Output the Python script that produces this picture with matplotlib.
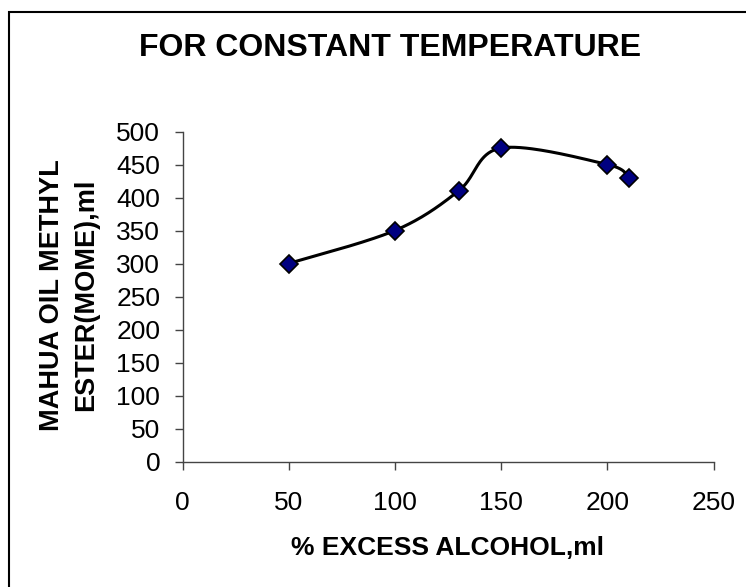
import numpy as np
import matplotlib
matplotlib.use("Agg")
import matplotlib.pyplot as plt
from matplotlib.patches import Rectangle

# data
excess_alcohol = [50, 100, 130, 150, 200, 210]
mome_ml = [300, 350, 410, 475, 450, 430]
x_ticks = [0, 50, 100, 150, 200, 250]
y_ticks = [0, 50, 100, 150, 200, 250, 300, 350, 400, 450, 500]
title = "FOR CONSTANT TEMPERATURE"
x_label = "% EXCESS ALCOHOL,ml"
y_label = "MAHUA OIL METHYL\nESTER(MOME),ml"

plt.rcParams['font.family'] = ['Liberation Sans', 'DejaVu Sans']

W, H = 746, 587
fig = plt.figure(figsize=(W / 100, H / 100), dpi=100)
fig.patch.set_facecolor('white')

# outer chart border (extends beyond right/bottom edge)
fig.patches.append(Rectangle((8.5 / W, -0.05), 1.2, 1 - 11.5 / H + 0.05,
                             transform=fig.transFigure, fill=False,
                             edgecolor='black', linewidth=1.5))

left, right = 182.5 / W, 713.5 / W
bottom, top = 1 - 461.5 / H, 1 - 131.5 / H
ax = fig.add_axes([left, bottom, right - left, top - bottom])
ax.set_xlim(0, 250)
ax.set_ylim(0, 500)
ax.set_xticks(x_ticks)
ax.set_yticks(y_ticks)
for s in ['top', 'right']:
    ax.spines[s].set_visible(False)
for s in ['left', 'bottom']:
    ax.spines[s].set_color('#444444')
    ax.spines[s].set_linewidth(1.0)
ax.tick_params(direction='out', length=6, width=1.0, color='#444444',
               labelsize=19)
ax.tick_params(axis='x', pad=15)
ax.tick_params(axis='y', pad=10)
ax.patch.set_alpha(0)

# Excel-style smoothed line (Bezier through points, computed in display space)
pts = ax.transData.transform(np.column_stack([excess_alcohol, mome_ml]))
n = len(pts)
curve = []
for i in range(n - 1):
    p0 = pts[max(i - 1, 0)]
    p1 = pts[i]
    p2 = pts[i + 1]
    p3 = pts[min(i + 2, n - 1)]
    c1 = p1 + (p2 - p0) / 6.0
    c2 = p2 - (p3 - p1) / 6.0
    t = np.linspace(0, 1, 40)[:, None]
    seg = ((1 - t) ** 3) * p1 + 3 * ((1 - t) ** 2) * t * c1 + 3 * (1 - t) * t ** 2 * c2 + t ** 3 * p2
    curve.append(seg if i == 0 else seg[1:])
curve = np.vstack(curve)
curve_data = ax.transData.inverted().transform(curve)
ax.plot(curve_data[:, 0], curve_data[:, 1], color='black', linewidth=2.2,
        solid_capstyle='round', zorder=2)
ax.plot(excess_alcohol, mome_ml, linestyle='none', marker='D', markersize=9.5,
        markerfacecolor='#000080', markeredgecolor='black',
        markeredgewidth=1.2, zorder=3, clip_on=False)

fig.text(447.5 / W, 1 - 548 / H, x_label, fontsize=19, fontweight='bold',
         ha='center', va='center')
fig.text(69 / W, 1 - 295 / H, y_label, rotation=90, fontsize=19.5,
         fontweight='bold', ha='center', va='center', linespacing=1.4)
fig.text(390 / W, 1 - 48.5 / H, title, fontsize=23, fontweight='bold',
         ha='center', va='center')

fig.savefig('out.png', dpi=100)
